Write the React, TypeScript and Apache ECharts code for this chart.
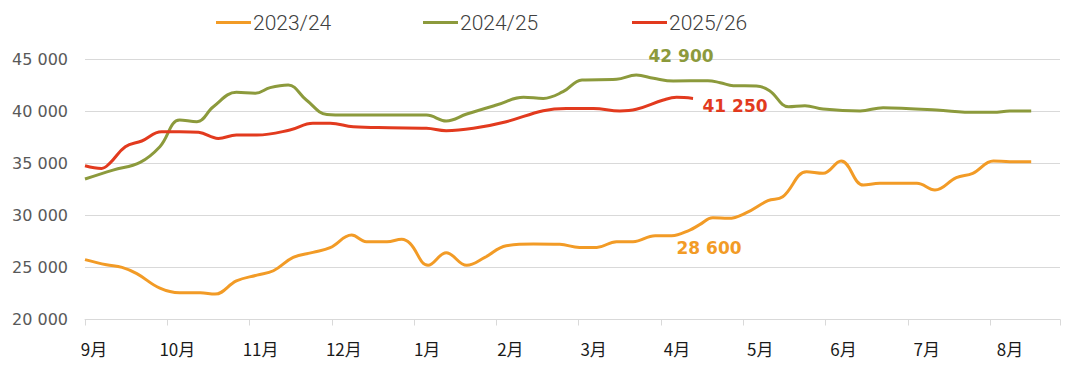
import React, { useEffect, useRef } from "react";
import * as echarts from "echarts";

const monthLabels = ["9月", "10月", "11月", "12月", "1月", "2月", "3月", "4月", "5月", "6月", "7月", "8月"];
const seriesNames = ["2023/24", "2024/25", "2025/26"];
const colors = ["#F29B26", "#8C9A3C", "#E23A1E"];

// x = position in months from start of September
const data2324: [number, number][] = [
  [0, 25750], [0.26, 25250], [0.45, 25000], [0.63, 24400], [0.91, 23000], [1.15, 22560], [1.4, 22560],
  [1.58, 22440], [1.84, 23700], [2.09, 24260], [2.29, 24680], [2.53, 25960], [2.77, 26440], [2.98, 26890],
  [3.24, 28100], [3.42, 27470], [3.67, 27470], [3.85, 27700], [3.95, 27300], [4.17, 25200], [4.39, 26400],
  [4.64, 25200], [4.86, 25960], [5.12, 27080], [5.45, 27240], [5.77, 27210], [6.01, 26920], [6.22, 26920],
  [6.46, 27470], [6.66, 27470], [6.93, 28040], [7.13, 28040], [7.35, 28580], [7.47, 29100], [7.63, 29770],
  [7.82, 29710], [8.04, 30250], [8.3, 31400], [8.48, 31780], [8.77, 34180], [8.97, 34030], [9.19, 35210],
  [9.46, 32900], [9.66, 33070], [10.11, 33070], [10.33, 32420], [10.59, 33610], [10.79, 34030], [11.04, 35210],
  [11.24, 35140], [11.5, 35140],
];
const data2425: [number, number][] = [
  [0, 33480], [0.34, 34340], [0.67, 35080], [0.91, 36580], [1.15, 39140], [1.36, 38980], [1.56, 40420],
  [1.84, 41800], [2.07, 41710], [2.25, 42250], [2.47, 42500], [2.69, 41060], [2.94, 39680], [3.18, 39620],
  [3.6, 39620], [4.15, 39620], [4.39, 39050], [4.64, 39720], [5.0, 40580], [5.33, 41320], [5.57, 41220],
  [5.81, 41860], [6.04, 42980], [6.46, 43050], [6.7, 43460], [6.91, 43150], [7.15, 42890], [7.57, 42920],
  [7.72, 42730], [7.88, 42440], [8.16, 42410], [8.32, 41960], [8.55, 40420], [8.75, 40520], [8.97, 40200],
  [9.42, 40010], [9.7, 40330], [9.98, 40260], [10.35, 40100], [10.83, 39880], [11.04, 39880], [11.24, 40010],
  [11.5, 40010],
];
const data2526: [number, number][] = [
  [0, 34760], [0.2, 34500], [0.3, 34990], [0.49, 36580], [0.69, 37130], [0.93, 38020], [1.15, 38020],
  [1.38, 37960], [1.62, 37380], [1.84, 37700], [2.09, 37700], [2.49, 38180], [2.77, 38830], [2.98, 38830],
  [3.26, 38500], [3.7, 38400], [4.15, 38350], [4.39, 38120], [4.72, 38350], [5.12, 38980], [5.57, 40040],
  [5.85, 40260], [6.18, 40260], [6.5, 40010], [6.7, 40170], [7.03, 41060], [7.19, 41320], [7.39, 41220],
];
const annotX = 7.39;
const annotValues = [28600, 42900, 41250];
const annotOffsets: [number, number][] = [[16, 18], [-12, -25], [42, 8]];
const legendLefts = [216, 423, 632];

const fmt = (v: number) => {
  const t = Math.floor(v / 1000);
  const r = String(Math.round(v % 1000)).padStart(3, "0");
  return `${t} ${r}`;
};

export default function App() {
  const ref = useRef<HTMLDivElement>(null);
  useEffect(() => {
    if (!ref.current) return;
    const chart = echarts.init(ref.current, undefined, { renderer: "svg" });
    const all = [data2324, data2425, data2526];
    const labelPositions = monthLabels.map((_, k) => 0.11 + 1.012 * k);
    chart.setOption({
      animation: false,
      legend: seriesNames.map((name, i) => ({
        left: legendLefts[i],
        top: 12,
        padding: 0,
        icon: "rect",
        itemWidth: 35,
        itemHeight: 3,
        itemGap: 0,
        textStyle: {
          fontFamily: "Roboto",
          fontWeight: 300,
          fontSize: 21,
          color: "#404040",
          padding: [0, 0, 0, -3],
        },
        data: [name],
      })),
      grid: { left: 85, right: 20, top: 59, bottom: 51.5 },
      xAxis: {
        type: "value",
        min: 0,
        max: 11.85,
        interval: 1,
        axisLine: { show: true, lineStyle: { color: "#d9d9d9", width: 1 } },
        axisTick: { show: true, length: 6, lineStyle: { color: "#d9d9d9" } },
        splitLine: { show: false },
        axisLabel: {
          customValues: labelPositions,
          formatter: (v: number) => monthLabels[Math.round((v - 0.11) / 1.012)] ?? "",
          margin: 20,
          fontFamily: "Noto Sans CJK SC",
          fontSize: 17,
          color: "#1a1a1a",
        },
      },
      yAxis: {
        type: "value",
        min: 20000,
        max: 45000,
        interval: 5000,
        axisLine: { show: false },
        axisTick: { show: false },
        splitLine: { lineStyle: { color: "#d9d9d9", width: 1 } },
        axisLabel: {
          formatter: fmt,
          margin: 17,
          fontFamily: "DejaVu Sans",
          fontSize: 16,
          color: "#595959",
        },
      },
      series: seriesNames.map((name, i) => ({
        name,
        type: "line",
        data: all[i],
        smooth: 0.4,
        symbol: "none",
        color: colors[i],
        lineStyle: { width: 3, color: colors[i] },
        z: i + 2,
        markPoint: {
          symbol: "circle",
          symbolSize: 1,
          itemStyle: { color: "rgba(0,0,0,0)" },
          data: [
            {
              coord: [annotX, annotValues[i]],
              label: {
                show: true,
                position: "inside",
                offset: annotOffsets[i],
                formatter: fmt(annotValues[i]),
                fontFamily: "DejaVu Sans",
                fontWeight: "bold",
                fontSize: 17,
                color: colors[i],
              },
            },
          ],
        },
      })),
    });
    return () => chart.dispose();
  }, []);
  return <div ref={ref} style={{ position: "absolute", left: 0, top: 0, width: 1080, height: 371 }} />;
}
